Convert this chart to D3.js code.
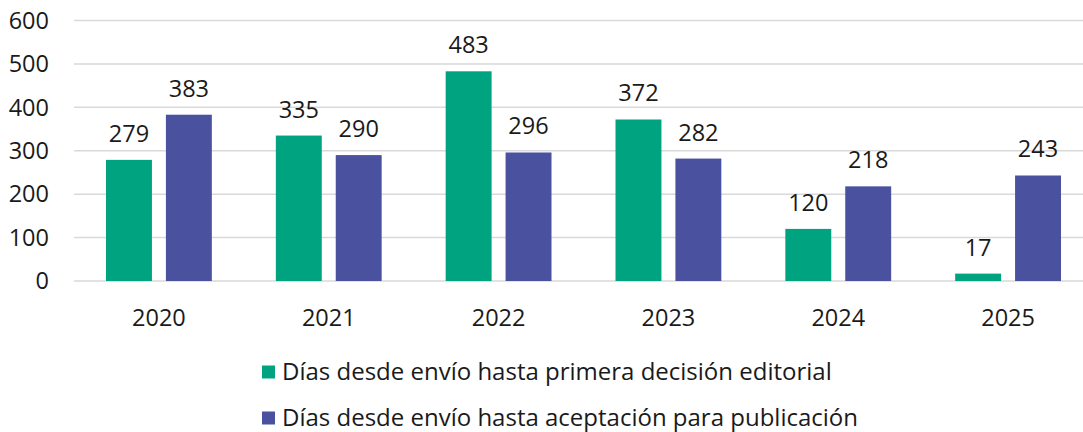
<!DOCTYPE html>
<html>
<head>
<meta charset="utf-8">
<script src="https://cdn.jsdelivr.net/npm/d3@7"></script>
<style>
  body { margin: 0; background: #fff; }
  svg { display: block; font-family: "Open Sans", "Noto Sans", sans-serif; }
</style>
</head>
<body>
<svg id="chart"></svg>
<script>
// data
var years = ["2020", "2021", "2022", "2023", "2024", "2025"];
var seriesNames = [
  "Días desde envío hasta primera decisión editorial",
  "Días desde envío hasta aceptación para publicación"
];
var primeraDecision = [279, 335, 483, 372, 120, 17];
var aceptacion = [383, 290, 296, 282, 218, 243];
var yTicks = [0, 100, 200, 300, 400, 500, 600];
var colors = ["#00a37f", "#4a52a0"];

var width = 1083, height = 432;
var fs = 23.5;
var svg = d3.select("#chart").attr("width", width).attr("height", height);

var x0 = d3.scaleBand().domain(years).range([74, 1093]).padding(0);
var x1 = d3.scaleBand().domain([0, 1])
    .range([32, x0.bandwidth() - 32]).paddingInner(0.2333).paddingOuter(0);
var y = d3.scaleLinear().domain([0, 600]).range([281, 20.5]);

// gridlines
svg.append("g").selectAll("line").data(yTicks).enter().append("line")
    .attr("x1", 74).attr("x2", 1093)
    .attr("y1", d => y(d)).attr("y2", d => y(d))
    .attr("stroke", "#d9d9d9").attr("stroke-width", 1.5);

// y labels
svg.append("g").selectAll("text").data(yTicks).enter().append("text")
    .attr("x", 49).attr("y", d => y(d))
    .attr("dy", "0.35em").attr("text-anchor", "end")
    .attr("font-size", fs).attr("fill", "#1a1a1a")
    .text(d => d);

// bars
var rows = years.map((yr, i) => ({ year: yr, vals: [primeraDecision[i], aceptacion[i]] }));
var grp = svg.append("g").selectAll("g").data(rows).enter().append("g")
    .attr("transform", d => "translate(" + x0(d.year) + ",0)");

grp.selectAll("rect").data(d => d.vals.map((v, k) => ({ k: k, v: v }))).enter().append("rect")
    .attr("x", d => x1(d.k)).attr("width", x1.bandwidth())
    .attr("y", d => y(d.v)).attr("height", d => y(0) - y(d.v))
    .attr("fill", d => colors[d.k]);

grp.selectAll("text").data(d => d.vals.map((v, k) => ({ k: k, v: v }))).enter().append("text")
    .attr("x", d => x1(d.k) + x1.bandwidth() / 2)
    .attr("y", d => y(d.v) - 18)
    .attr("text-anchor", "middle")
    .attr("font-size", fs).attr("fill", "#1a1a1a")
    .text(d => d.v);

// x labels
svg.append("g").selectAll("text").data(years).enter().append("text")
    .attr("x", d => x0(d) + x0.bandwidth() / 2).attr("y", 318)
    .attr("dy", "0.35em").attr("text-anchor", "middle")
    .attr("font-size", fs).attr("fill", "#1a1a1a")
    .text(d => d);

// legend
var leg = svg.append("g").selectAll("g").data(seriesNames).enter().append("g")
    .attr("transform", (d, i) => "translate(262," + (372 + i * 46) + ")");
leg.append("rect").attr("x", 0).attr("y", -6.5).attr("width", 13).attr("height", 13)
    .attr("fill", (d, i) => colors[i]);
leg.append("text").attr("x", 20).attr("y", 0).attr("dy", "0.35em")
    .attr("font-size", 24).attr("fill", "#1a1a1a")
    .text(d => d);
</script>
</body>
</html>
